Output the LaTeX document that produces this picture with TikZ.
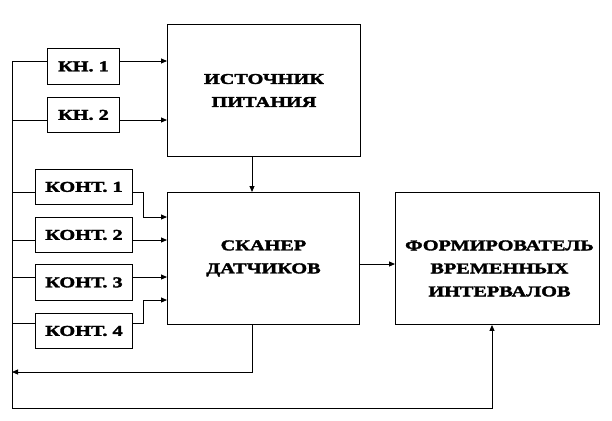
\documentclass[tikz,border=0pt]{standalone}
\usepackage{fontspec}
\setmainfont{Liberation Serif}
\newfontfamily\blkfont{Liberation Serif}[FakeStretch=1.35, BoldFeatures={FakeBold=2.2}]
\usetikzlibrary{arrows.meta}
\begin{document}
\begin{tikzpicture}[x=1pt,y=-1pt,
  blk/.style={draw, line width=0.9pt, inner sep=0pt, anchor=north west, align=center,
    font=\blkfont\fontsize{15}{23}\selectfont\bfseries},
  wire/.style={line width=0.9pt},
  arr/.style={wire, -{Triangle[length=6pt,width=5pt]}}]
\useasboundingbox (0,0) rectangle (612,420);
\node[blk, minimum width=72pt, minimum height=36pt] (k1) at (47,48) {КН. 1};
\node[blk, minimum width=72pt, minimum height=35pt] (k2) at (47,97) {КН. 2};
\node[blk, minimum width=97pt, minimum height=35pt] (c1) at (35,169) {КОНТ. 1};
\node[blk, minimum width=97pt, minimum height=35pt] (c2) at (35,217) {КОНТ. 2};
\node[blk, minimum width=97pt, minimum height=36pt] (c3) at (35,264) {КОНТ. 3};
\node[blk, minimum width=97pt, minimum height=35pt] (c4) at (35,313) {КОНТ. 4};
\node[blk, minimum width=193pt, minimum height=132pt] (src) at (167,24) {ИСТОЧНИК\\ПИТАНИЯ};
\node[blk, minimum width=192pt, minimum height=132pt] (scn) at (167,192) {СКАНЕР\\ДАТЧИКОВ};
\node[blk, minimum width=204pt, minimum height=132pt] (frm) at (395,192) {};
\node[font=\blkfont\fontsize{15}{23}\selectfont\bfseries, align=center, inner sep=0pt] (frmt) at ([xshift=2pt,yshift=-10pt]frm.center) {ФОРМИРОВАТЕЛЬ\\ВРЕМЕННЫХ\\ИНТЕРВАЛОВ};
\coordinate (bt) at (12,61);
\coordinate (bb) at (12,408);
\coordinate (bend1) at (143,192);
\coordinate (bend4) at (143,323);
\coordinate (scnout) at (252,372);
\coordinate (frmin) at (492,408);
% bus
\draw[wire] (bt) -- (bb);
\draw[wire] (bt) -- (k1.west |- bt);
\draw[wire] (k2.west |- 0,120) -- (bt |- 0,120);
\draw[wire] (c1.west |- 0,192) -- (bt |- 0,192);
\draw[wire] (c2.west |- 0,240) -- (bt |- 0,240);
\draw[wire] (c3.west |- 0,277) -- (bt |- 0,277);
\draw[wire] (c4.west |- 0,323) -- (bt |- 0,323);
% buttons to source
\draw[arr] (k1.east |- bt) -- (src.west |- bt);
\draw[arr] (k2.east |- 0,120) -- (src.west |- 0,120);
% contacts to scanner
\draw[arr] (c1.east |- bend1) -- (bend1) -- (bend1 |- 0,217) -- (scn.west |- 0,217);
\draw[arr] (c2.east |- 0,240) -- (scn.west |- 0,240);
\draw[arr] (c3.east |- 0,277) -- (scn.west |- 0,277);
\draw[arr] (c4.east |- bend4) -- (bend4) -- (bend4 |- 0,300) -- (scn.west |- 0,300);
% source to scanner
\draw[arr] (src.south -| scnout) -- (scn.north -| scnout);
% scanner to formirovatel
\draw[arr] (scn.east |- 0,264) -- (frm.west |- 0,264);
% scanner feedback
\draw[arr] (scn.south -| scnout) -- (scnout) -- (bt |- scnout);
% bottom to formirovatel
\draw[arr] (bb) -- (frmin) -- (frm.south -| frmin);
\end{tikzpicture}
\end{document}
